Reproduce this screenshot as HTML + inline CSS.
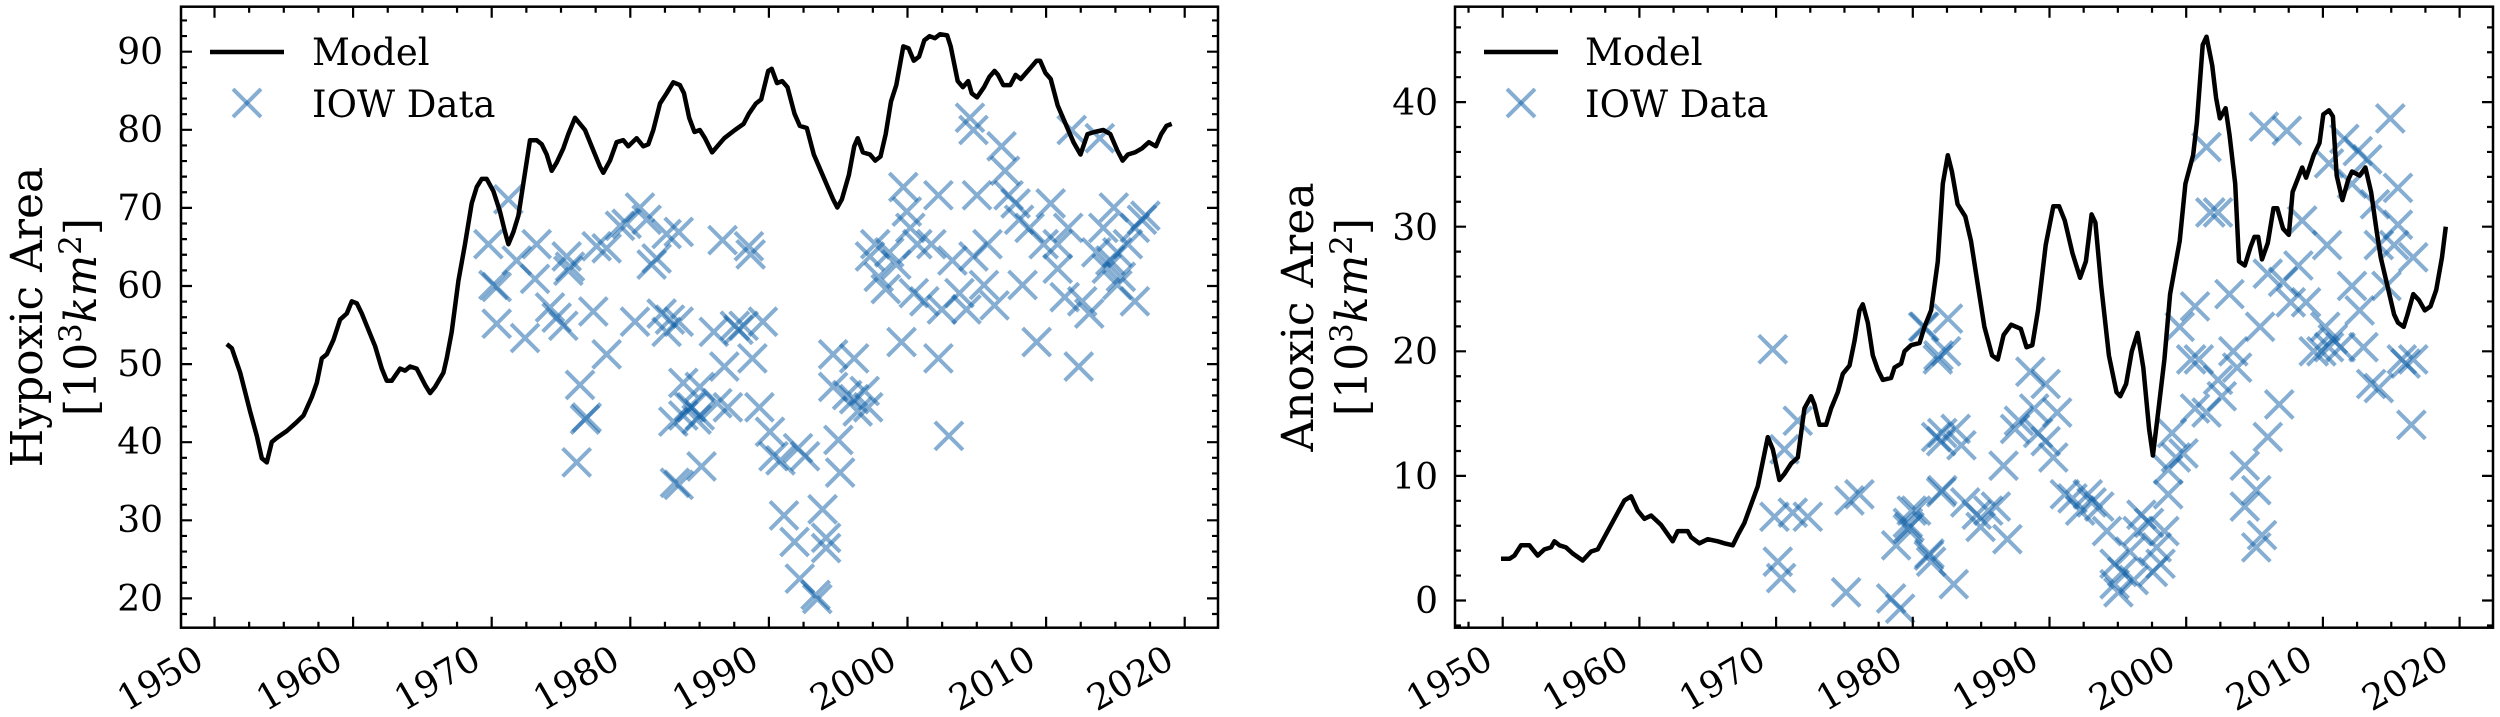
<!DOCTYPE html>
<html><head><meta charset="utf-8"><style>
html,body{margin:0;padding:0;background:#fff;}
svg{display:block;}
text{font-family:"DejaVu Serif","Liberation Serif",serif;fill:#000;}
</style></head><body>
<svg id="s" width="2500" height="717" viewBox="0 0 2500 717" xmlns="http://www.w3.org/2000/svg">
<rect width="2500" height="717" fill="#fff"/>
<g id="g"></g>
<text transform="translate(42,317) rotate(-90)" text-anchor="middle" font-size="44">Hypoxic Area</text>
<text transform="translate(96,317) rotate(-90)" text-anchor="middle" font-size="44">[10<tspan dy="-15" font-size="31">3</tspan><tspan dy="15" font-style="italic">km</tspan><tspan dy="-15" font-size="31">2</tspan><tspan dy="15">]</tspan></text>
<text transform="translate(1313,317) rotate(-90)" text-anchor="middle" font-size="44">Anoxic Area</text>
<text transform="translate(1367,317) rotate(-90)" text-anchor="middle" font-size="44">[10<tspan dy="-15" font-size="31">3</tspan><tspan dy="15" font-style="italic">km</tspan><tspan dy="-15" font-size="31">2</tspan><tspan dy="15">]</tspan></text>
<line x1="210" y1="52" x2="284" y2="52" stroke="#000" stroke-width="4.5"/>
<text x="312" y="65" font-size="37">Model</text>
<g stroke="#0C5DA5" stroke-opacity="0.5" stroke-width="4"><line x1="233" y1="89" x2="261" y2="117"/><line x1="233" y1="117" x2="261" y2="89"/></g>
<text x="312" y="117" font-size="37">IOW Data</text>
<line x1="1484" y1="52" x2="1558" y2="52" stroke="#000" stroke-width="4.5"/>
<text x="1585" y="65" font-size="37">Model</text>
<g stroke="#0C5DA5" stroke-opacity="0.5" stroke-width="4"><line x1="1507" y1="89" x2="1535" y2="117"/><line x1="1507" y1="117" x2="1535" y2="89"/></g>
<text x="1585" y="117" font-size="37">IOW Data</text>
<g font-size="36" text-anchor="end">
<text x="163" y="64">90</text><text x="163" y="142">80</text><text x="163" y="220">70</text><text x="163" y="298">60</text><text x="163" y="376">50</text><text x="163" y="454">40</text><text x="163" y="532">30</text><text x="163" y="611">20</text>
<text x="1438" y="115">40</text><text x="1438" y="240">30</text><text x="1438" y="364">20</text><text x="1438" y="489">10</text><text x="1438" y="613">0</text>
<text transform="translate(206,666) rotate(-30)">1950</text>
<text transform="translate(345,666) rotate(-30)">1960</text>
<text transform="translate(483,666) rotate(-30)">1970</text>
<text transform="translate(622,666) rotate(-30)">1980</text>
<text transform="translate(761,666) rotate(-30)">1990</text>
<text transform="translate(899,666) rotate(-30)">2000</text>
<text transform="translate(1038,666) rotate(-30)">2010</text>
<text transform="translate(1176,666) rotate(-30)">2020</text>
<text transform="translate(1495,666) rotate(-30)">1950</text>
<text transform="translate(1631,666) rotate(-30)">1960</text>
<text transform="translate(1768,666) rotate(-30)">1970</text>
<text transform="translate(1905,666) rotate(-30)">1980</text>
<text transform="translate(2041,666) rotate(-30)">1990</text>
<text transform="translate(2178,666) rotate(-30)">2000</text>
<text transform="translate(2315,666) rotate(-30)">2010</text>
<text transform="translate(2451,666) rotate(-30)">2020</text>
</g>
</svg>
<script>
(function(){
var NS="http://www.w3.org/2000/svg",g=document.getElementById("g");
function el(t,a){var e=document.createElementNS(NS,t);for(var k in a)e.setAttribute(k,a[k]);g.appendChild(e);return e;}
var L={x0:181,x1:1218,y0:6.7,y1:627.7,X:function(y){return 214.5+(y-1950)*13.86},Y:function(v){return 51.7+(90-v)*7.81}};
var R={x0:1455,x1:2493,y0:6.7,y1:627.7,X:function(y){return 1502.7+(y-1950)*13.67},Y:function(v){return 600.5-v*12.46}};
function z10(p){return [1950+(p[0]-103)/41.6,90-(p[1]-128)/19.15]}
function z9(p){return [1990+(p[0]-257)/39.5,90-(p[1]-128)/19.15]}
function z8(p){return [1950+(p[0]-155)/41,(1470-p[1])/30.5]}
function z7(p){return [1980+(p[0]-33)/35.7,(1470-p[1])/30.5]}
var lm10=[[140,845],[155,855],[180,915],[210,1010],[230,1070],[245,1125],[260,1135],[275,1085],[290,1075],[320,1058],[345,1040],[370,1020],[395,975],[410,940],[425,880],[440,870],[460,835],[480,785],[500,770],[515,740],[530,745],[545,770],[560,800],[585,850],[605,905],[620,935],[635,935],[660,905],[675,910],[690,900],[710,905],[735,945],[750,965],[765,950],[790,915],[800,880],[815,815],[835,690],[855,600],[875,500],[890,460],[905,440],[920,440],[940,470],[960,520],[975,570],[985,600],[1000,570],[1015,530],[1030,450],[1050,345],[1070,345],[1085,355],[1100,380],[1115,420],[1130,400],[1150,365],[1165,330],[1185,290],[1200,305],[1215,320],[1240,370],[1260,410],[1270,425],[1290,395],[1310,350],[1330,345],[1345,360],[1370,340],[1390,360],[1405,355],[1420,320],[1440,255],[1460,230],[1480,203],[1500,210]];
var lm9=[[15,230],[30,290],[45,325],[60,320],[75,340],[95,375],[110,360],[130,340],[160,320],[185,305],[200,280],[220,255],[235,245],[255,175],[265,170],[280,205],[295,200],[310,215],[330,280],[345,310],[365,315],[385,380],[405,420],[425,460],[440,490],[452,510],[465,490],[485,430],[500,360],[510,340],[525,375],[545,380],[560,395],[575,385],[590,330],[605,250],[620,210],[640,115],[655,120],[670,150],[685,140],[700,100],[715,90],[730,95],[745,85],[765,88],[775,115],[795,200],[810,215],[825,200],[835,230],[850,240],[870,215],[885,190],[900,175],[910,185],[925,210],[945,210],[960,185],[975,195],[990,180],[1005,165],[1020,150],[1030,150],[1045,180],[1060,195],[1080,260],[1100,300],[1125,350],[1145,380],[1165,330],[1185,325],[1210,320],[1230,330],[1250,370],[1265,395],[1280,380],[1300,375],[1320,365],[1340,350],[1360,360],[1375,330],[1390,310],[1405,305]];
var rm8=[[150,1368],[175,1368],[190,1360],[210,1335],[235,1335],[260,1360],[280,1345],[300,1340],[310,1325],[325,1335],[345,1340],[365,1355],[395,1372],[420,1350],[440,1345],[470,1300],[500,1255],[520,1225],[540,1215],[560,1250],[580,1270],[600,1262],[630,1285],[665,1325],[680,1300],[710,1300],[720,1315],[745,1330],[770,1320],[800,1325],[820,1330],[845,1335],[860,1310],[880,1280],[900,1235],[920,1190],[935,1130],[950,1070],[965,1100],[985,1175],[1000,1160],[1020,1135],[1040,1120],[1060,1000],[1080,970],[1090,990],[1105,1040],[1125,1040],[1140,1000],[1160,960],[1175,915],[1195,895],[1210,835],[1225,760],[1235,745],[1250,790],[1265,870],[1280,905],[1295,930],[1320,925],[1330,900],[1350,890],[1360,860],[1380,845],[1405,840],[1420,800],[1440,760],[1460,640],[1475,450],[1490,380]];
var rm7=[[135,420],[150,500],[170,530],[185,590],[200,680],[220,800],[240,870],[255,880],[270,820],[290,795],[315,805],[330,850],[345,845],[360,760],[380,600],[400,505],[415,505],[430,540],[450,620],[470,680],[485,640],[500,525],[510,545],[525,700],[545,870],[565,960],[575,970],[590,940],[605,860],[620,815],[635,900],[650,1050],[660,1115],[675,1000],[690,880],[705,720],[730,590],[745,450],[765,380],[775,300],[790,110],[800,90],[815,160],[825,240],[835,290],[850,265],[860,330],[875,450],[885,640],[900,650],[915,605],[925,580],[935,580],[945,635],[960,595],[975,510],[985,510],[1000,560],[1015,575],[1025,470],[1050,410],[1060,435],[1080,380],[1095,350],[1105,280],[1120,270],[1130,285],[1140,430],[1155,490],[1170,440],[1180,420],[1200,430],[1215,410],[1230,470],[1245,570],[1255,630],[1275,710],[1290,770],[1300,790],[1315,800],[1325,770],[1340,720],[1355,735],[1370,760],[1385,750],[1400,710],[1415,630],[1425,555]];
var ls10=[[985,490],[925,600],[940,700],[950,705],[950,795],[1010,640],[1035,830],[1070,600],[1065,685],[1110,755],[1130,780],[1150,800],[1160,630],[1165,665],[1170,655],[1200,945],[1215,1030],[1220,1025],[1190,1135],[1250,605],[1280,610],[1280,870],[1240,765],[1320,555],[1340,550],[1380,510],[1400,540],[1365,790],[1415,650],[1430,635],[1460,575],[1445,770],[1470,785],[1460,815],[1485,1185],[1510,940],[1510,1020],[1535,1000],[1550,1030],[1480,1035]];
var ls9=[[0,570],[0,790],[0,1190],[125,590],[200,605],[205,625],[185,800],[210,880],[240,790],[100,815],[160,800],[170,810],[130,900],[60,950],[30,1000],[60,1020],[110,990],[140,1000],[230,1000],[65,1145],[260,1060],[270,1120],[290,1130],[340,1100],[360,1120],[455,1080],[460,1160],[300,1265],[330,1330],[345,1420],[390,1460],[395,1470],[410,1250],[420,1320],[420,1345],[440,870],[440,950],[480,970],[500,980],[510,1010],[530,960],[540,1000],[500,880],[545,630],[560,600],[570,680],[590,710],[600,620],[620,650],[640,460],[650,520],[660,560],[635,840],[670,720],[700,740],[680,600],[720,600],[740,880],[740,480],[750,760],[770,1070],[780,640],[800,720],[820,760],[840,630],[830,290],[840,320],[850,480],[870,700],[880,600],[900,750],[920,360],[930,420],[940,480],[960,500],[970,540],[980,700],[1000,560],[1020,840],[1040,600],[1060,500],[1080,600],[1080,660],[1100,730],[1110,560],[1120,320],[1140,900],[1150,740],[1170,770],[1190,620],[1200,340],[1210,560],[1230,640],[1240,510],[1250,620],[1260,680],[1280,600],[1300,740],[1300,560],[1320,540],[1330,530],[1220,660],[1250,700]];
var rs8=[[965,855],[1000,1100],[1040,1030],[970,1265],[1025,1255],[1070,1265],[1195,1225],[1225,1210],[980,1375],[990,1415],[1185,1450],[1320,1465],[1335,1335],[1370,1295],[1395,1250],[1375,1290],[1435,1355],[1440,1375],[1420,800],[1460,880],[1455,1070],[1470,1080],[1470,1205]];
var rs7=[[0,1490],[20,1280],[30,1250],[75,1360],[140,1430],[60,800],[125,780],[100,870],[120,860],[110,1060],[145,1050],[160,1090],[110,1200],[170,1230],[200,1260],[210,1290],[230,1250],[250,1240],[280,1320],[270,1140],[300,1050],[310,1030],[340,910],[350,1000],[380,940],[360,1060],[380,1080],[410,1010],[400,1120],[430,1210],[450,1220],[470,1250],[490,1210],[500,1230],[520,1240],[540,1300],[560,1380],[560,1430],[570,1450],[580,1400],[600,1350],[610,1420],[620,1300],[630,1260],[650,1280],[660,1400],[670,1340],[680,1380],[690,1300],[700,1150],[700,1210],[720,1120],[740,1110],[710,1060],[730,800],[770,750],[760,880],[780,880],[800,360],[810,520],[830,520],[770,1000],[800,1010],[830,930],[840,970],[860,720],[870,860],[880,900],[900,1140],[900,1240],[930,1200],[930,1340],[945,1310],[960,1070],[940,800],[990,990],[950,310],[1010,320],[960,670],[1000,690],[1020,740],[1040,650],[1050,540],[1060,740],[1080,860],[1100,860],[1110,800],[1120,850],[1130,830],[1150,850],[1115,600],[1120,400],[1160,340],[1180,450],[1195,370],[1220,390],[1180,700],[1200,760],[1210,850],[1230,940],[1250,950],[1240,500],[1250,600],[1290,600],[1270,700],[1280,290],[1300,460],[1300,550],[1310,880],[1320,890],[1335,1040],[1340,630],[1340,880]];
function line(ax,pts){var d="";pts.forEach(function(p,i){d+=(i?"L":"M")+ax.X(p[0]).toFixed(1)+","+ax.Y(p[1]).toFixed(1);});
 el("path",{d:d,fill:"none",stroke:"#000","stroke-width":4.5,"stroke-linejoin":"round"});}
function scat(ax,pts){pts.forEach(function(p){var x=ax.X(p[0]),y=ax.Y(p[1]),s=14;
 el("path",{d:"M"+(x-s)+","+(y-s)+"L"+(x+s)+","+(y+s)+"M"+(x-s)+","+(y+s)+"L"+(x+s)+","+(y-s),stroke:"#0C5DA5","stroke-opacity":0.5,"stroke-width":4,fill:"none"});});}
function frame(ax){
 var d="";
 for(var yr=1947.5;yr<=2025.01;yr+=2.5){var x=ax.X(yr);if(x<ax.x0+1||x>ax.x1-1)continue;var len=(Math.abs(yr%10)<0.01)?11:6;
  d+="M"+x+","+ax.y1+"v"+(-len)+"M"+x+","+ax.y0+"v"+len;}
 for(var v=-10;v<=100;v+=2){var y=ax.Y(v);if(y<ax.y0+1||y>ax.y1-1)continue;var len=(v%10===0)?11:6;
  d+="M"+ax.x0+","+y+"h"+len+"M"+ax.x1+","+y+"h"+(-len);}
 el("path",{d:d,stroke:"#000","stroke-width":2.2,fill:"none"});
 el("rect",{x:ax.x0,y:ax.y0,width:ax.x1-ax.x0,height:ax.y1-ax.y0,fill:"none",stroke:"#000","stroke-width":2.5});
}
scat(L,ls10.map(z10).concat(ls9.map(z9)));
line(L,lm10.map(z10).concat(lm9.map(z9)));
scat(R,rs8.map(z8).concat(rs7.map(z7)));
line(R,rm8.map(z8).concat(rm7.map(z7)));
frame(L);frame(R);
})();
</script>
</body></html>
